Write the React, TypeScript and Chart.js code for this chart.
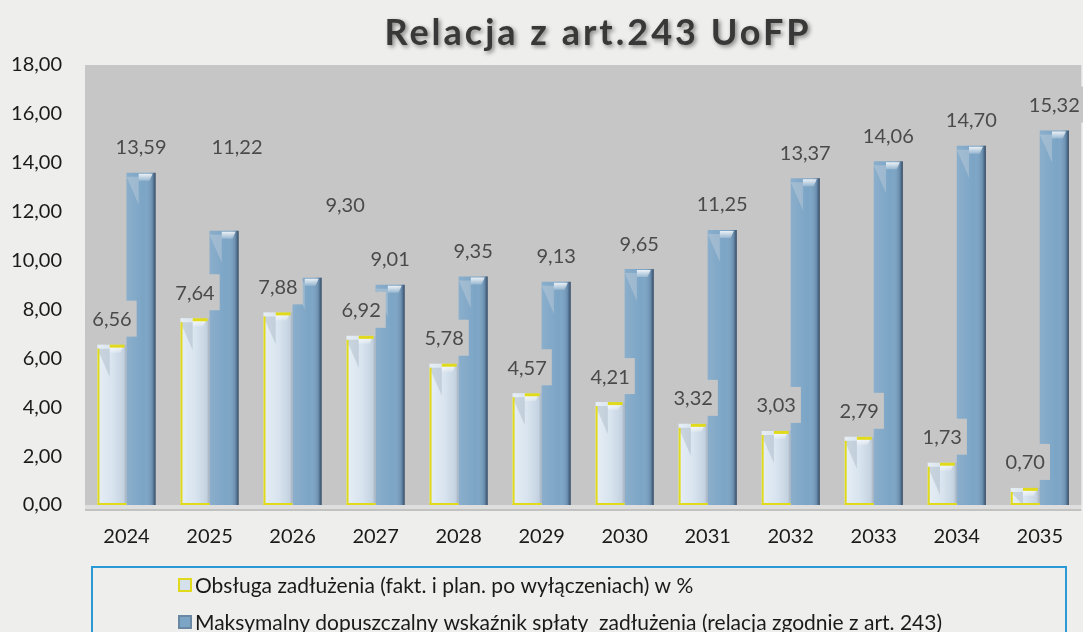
import { useEffect, useRef } from 'react';
import { Chart, registerables } from 'chart.js';

Chart.register(...registerables);

const TITLE = 'Relacja z art.243 UoFP';
const YEARS = ['2024', '2025', '2026', '2027', '2028', '2029', '2030', '2031', '2032', '2033', '2034', '2035'];
const DEBT_SERVICE = [6.56, 7.64, 7.88, 6.92, 5.78, 4.57, 4.21, 3.32, 3.03, 2.79, 1.73, 0.7];
const MAX_ALLOWED = [13.59, 11.22, 9.3, 9.01, 9.35, 9.13, 9.65, 11.25, 13.37, 14.06, 14.7, 15.32];
const SERIES_NAMES = [
  'Obsługa zadłużenia (fakt. i plan. po wyłączeniach) w %',
  'Maksymalny dopuszczalny wskaźnik spłaty  zadłużenia (relacja zgodnie z art. 243)',
];
const Y_MIN = 0;
const Y_MAX = 18;
const Y_STEP = 2;

// manual nudges of a few data labels (datasetIndex-dataIndex -> [dx, dy])
const LABEL_NUDGE: Record<string, [number, number]> = {
  '1-1': [13, -58],
  '1-2': [38, -47],
};

const PAGE_BG = '#eeeeec';
const PLOT_BG = '#c6c6c6';
const LIGHT_FILL = '#d4e1ed';
const BLUE_FILL = '#7ba4c5';
const YELLOW = '#e0da1a';
const FONT = 'Lato, "Open Sans", sans-serif';

const fmt = (v: number) => v.toFixed(2).replace('.', ',');

const decorPlugin = {
  id: 'decor',
  beforeDraw(chart: any) {
    const { ctx, chartArea: a, width, height } = chart;
    ctx.save();
    ctx.fillStyle = PAGE_BG;
    ctx.fillRect(0, 0, width, height);
    ctx.fillStyle = PLOT_BG;
    ctx.fillRect(a.left, a.top, a.right - a.left, a.bottom - a.top);
    // floor
    ctx.fillStyle = '#dedede';
    ctx.fillRect(a.left, a.bottom, a.right - a.left, 4);
    ctx.fillStyle = 'rgba(150,150,150,0.5)';
    ctx.fillRect(a.left, a.bottom + 4, a.right - a.left, 2);
    // title
    ctx.font = `bold 36px ${FONT}`;
    (ctx as any).letterSpacing = '3px';
    ctx.textAlign = 'center';
    ctx.textBaseline = 'alphabetic';
    ctx.shadowColor = 'rgba(0,0,0,0.45)';
    ctx.shadowBlur = 4;
    ctx.shadowOffsetX = 2;
    ctx.shadowOffsetY = 2;
    ctx.fillStyle = '#383838';
    ctx.fillText(TITLE, 598, 45);
    ctx.restore();
  },
  afterDatasetsDraw(chart: any) {
    const { ctx } = chart;
    ctx.save();
    // bar shading
    chart.data.datasets.forEach((_ds: any, di: number) => {
      const meta = chart.getDatasetMeta(di);
      meta.data.forEach((el: any) => {
        const { x, y, base, width } = el.getProps(['x', 'y', 'base', 'width'], true);
        const x0 = x - width / 2;
        const h = base - y;
        const g = ctx.createLinearGradient(x0, 0, x0 + width, 0);
        if (di === 0) {
          g.addColorStop(0, 'rgba(255,255,255,0.45)');
          g.addColorStop(0.5, 'rgba(255,255,255,0.1)');
          g.addColorStop(0.9, 'rgba(80,100,130,0.12)');
          g.addColorStop(1, 'rgba(60,70,90,0.35)');
        } else {
          g.addColorStop(0, 'rgba(255,255,255,0.12)');
          g.addColorStop(0.6, 'rgba(255,255,255,0.0)');
          g.addColorStop(0.88, 'rgba(40,60,90,0.2)');
          g.addColorStop(1, 'rgba(30,40,60,0.75)');
        }
        ctx.fillStyle = g;
        ctx.fillRect(x0, y, width, h);
        // left triangle notch
        const th = Math.min(32, h);
        ctx.fillStyle = di === 0 ? 'rgba(150,165,180,0.35)' : 'rgba(200,210,220,0.4)';
        ctx.beginPath();
        ctx.moveTo(x0, y + 4);
        ctx.lineTo(x0 + width * 0.42, y + 4);
        ctx.lineTo(x0 + width * 0.42, y + th);
        ctx.closePath();
        ctx.fill();
        // top highlight
        const hg = ctx.createLinearGradient(0, y, 0, y + 8);
        hg.addColorStop(0, 'rgba(255,255,255,0.95)');
        hg.addColorStop(1, 'rgba(255,255,255,0.2)');
        ctx.fillStyle = hg;
        ctx.beginPath();
        ctx.moveTo(x0 + width * 0.42, y + 1);
        ctx.lineTo(x0 + width - 3, y + 1);
        ctx.lineTo(x0 + width - 6, Math.min(y + 8, base));
        ctx.lineTo(x0 + width * 0.42, Math.min(y + 8, base));
        ctx.closePath();
        ctx.fill();
        if (di === 0) {
          ctx.fillStyle = YELLOW;
          ctx.fillRect(x0, y + 4, 2, h - 4);
          ctx.fillRect(x0 + width * 0.42, y, width * 0.58 - 2, 3);
          ctx.fillRect(x0, base - 2, width, 2);
        }
      });
    });
    // data labels with background boxes
    ctx.font = `20px ${FONT}`;
    ctx.textAlign = 'center';
    ctx.textBaseline = 'middle';
    chart.data.datasets.forEach((ds: any, di: number) => {
      const meta = chart.getDatasetMeta(di);
      meta.data.forEach((el: any, i: number) => {
        const { x, y } = el.getProps(['x', 'y'], true);
        const nudge = LABEL_NUDGE[`${di}-${i}`] || [0, 0];
        const cx = x + nudge[0];
        const cy = y - 26 + nudge[1];
        const text = fmt(ds.data[i]);
        const tw = ctx.measureText(text).width;
        ctx.fillStyle = PLOT_BG;
        ctx.fillRect(cx - tw / 2 - 5, cy - 18, tw + 10, 36);
        ctx.fillStyle = '#4a4a4a';
        ctx.fillText(text, cx, cy + 1);
      });
    });
    ctx.restore();
  },
  afterDraw(chart: any) {
    const { ctx } = chart;
    ctx.save();
    ctx.strokeStyle = '#2a9ad6';
    ctx.lineWidth = 2;
    ctx.strokeRect(92, 567, 974, 120);
    const rows = [
      { y: 585, fill: LIGHT_FILL, stroke: YELLOW, maxW: 527 },
      { y: 622, fill: BLUE_FILL, stroke: '#6a88a4', maxW: 790 },
    ];
    ctx.font = `21px ${FONT}`;
    ctx.textAlign = 'left';
    ctx.textBaseline = 'middle';
    rows.forEach((r, i) => {
      ctx.fillStyle = r.fill;
      ctx.fillRect(179, r.y - 6, 12, 12);
      ctx.strokeStyle = r.stroke;
      ctx.lineWidth = 2;
      ctx.strokeRect(179, r.y - 6, 12, 12);
      ctx.fillStyle = '#1a1a1a';
      ctx.fillText(SERIES_NAMES[i], 195, r.y + 1, r.maxW);
    });
    ctx.restore();
  },
};

export default function App() {
  const ref = useRef<HTMLCanvasElement>(null);
  useEffect(() => {
    if (!ref.current) return;
    const chart = new Chart(ref.current, {
      type: 'bar',
      data: {
        labels: YEARS,
        datasets: [
          {
            label: SERIES_NAMES[0],
            data: DEBT_SERVICE,
            backgroundColor: LIGHT_FILL,
            borderWidth: 0,
            categoryPercentage: 0.7,
            barPercentage: 1,
          },
          {
            label: SERIES_NAMES[1],
            data: MAX_ALLOWED,
            backgroundColor: BLUE_FILL,
            borderWidth: 0,
            categoryPercentage: 0.7,
            barPercentage: 1,
          },
        ],
      },
      options: {
        responsive: false,
        animation: false,
        layout: { padding: { top: 65, bottom: 77, left: 0, right: 0 } },
        plugins: {
          legend: { display: false },
          title: { display: false },
          tooltip: { enabled: false },
        },
        scales: {
          x: {
            grid: { display: false, drawTicks: false },
            border: { display: false },
            ticks: { font: { family: FONT, size: 20 }, color: '#1a1a1a', padding: 20 },
            afterFit: (s: any) => {
              s.height = 50;
            },
          },
          y: {
            min: Y_MIN,
            max: Y_MAX,
            grid: { display: false, drawTicks: false },
            border: { display: false },
            ticks: {
              stepSize: Y_STEP,
              callback: (v: any) => fmt(Number(v)),
              font: { family: FONT, size: 20 },
              color: '#1a1a1a',
              padding: 23,
            },
            afterFit: (s: any) => {
              s.width = 85;
            },
          },
        },
      },
      plugins: [decorPlugin],
    });
    return () => chart.destroy();
  }, []);
  return (
    <div style={{ position: 'fixed', left: 0, top: 0, width: 1083, height: 632 }}>
      <canvas ref={ref} width={1083} height={632} />
    </div>
  );
}
